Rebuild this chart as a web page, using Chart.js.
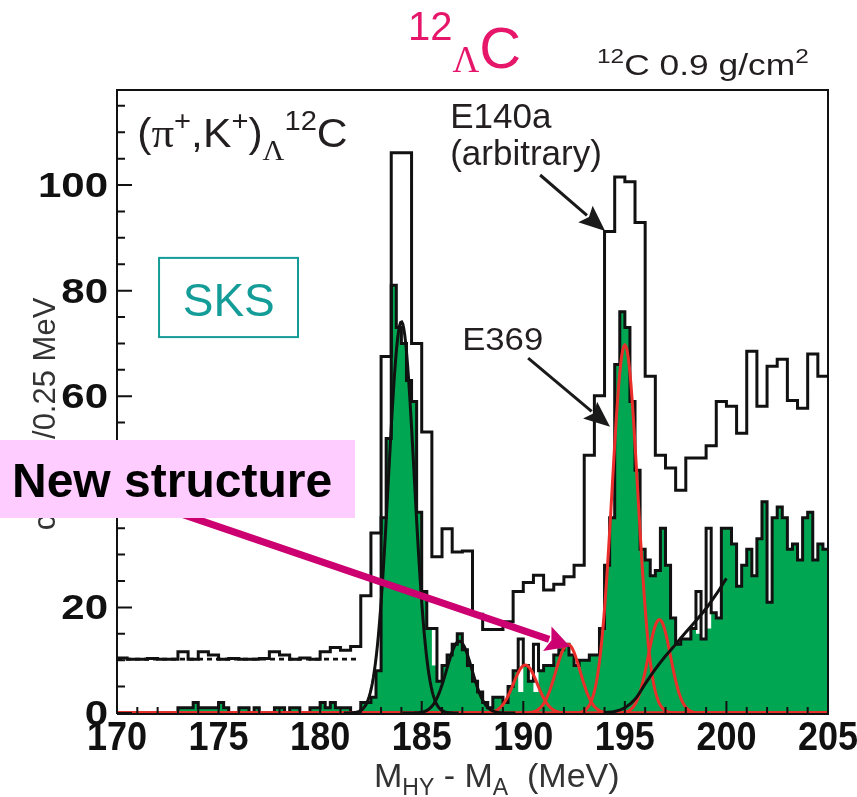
<!DOCTYPE html>
<html>
<head>
<meta charset="utf-8">
<script src="https://cdn.jsdelivr.net/npm/chart.js@4.4.1/dist/chart.umd.min.js"></script>
<style>
  html, body { margin: 0; padding: 0; background: #fff; }
</style>
</head>
<body>
<canvas id="myChart" width="857" height="797"></canvas>
<script>
// E369 spectrum: counts per 0.25 MeV, first bin starts at 170.00 MeV
const e369Start = 170
const e369Width = 0.25
const e369Counts = [
    0, 0, 0, 0, 0, 0, 0, 0, 0, 0, 0, 0,
    1, 1, 1, 2,   1, 1, 1, 1,   2, 1, 0, 0,   1, 1, 0, 1,
    0, 0, 0, 1,   1, 0, 1, 1,   0, 0, 1, 1,   2, 1, 2, 1,
    1, 1, 0, 0,   2, 2, 3, 8,   37, 52, 81, 73,   70, 63, 59, 38,
    23, 16, 16, 6,   9, 11, 13, 15,   12, 9, 6, 4,   2, 1, 3, 3,
    2, 5, 8, 14,   9, 6, 13, 8,   9, 9, 11, 12,   13, 11, 9, 10,
    10, 11, 11, 16,   28, 37, 66, 76,   73, 59, 46, 31,   29, 26, 27, 35,
    28, 18, 13, 14,   14, 16, 23, 14,   35, 19, 18, 35,   35, 32, 24, 28,
    31, 26, 33, 40,   21, 37, 39, 37,   31, 32, 29, 37,   38, 29, 32, 31
]
// single-bin spikes where the green fill stops below the outline: [bin start, fill level]
const e369FillGaps = [[185.5, 9], [189.75, 4], [190.5, 4], [198.5, 15], [199.0, 16]]

// E140a spectrum (arbitrary units), 0.5 MeV bins from 170.0 MeV
const e140Start = 170
const e140Width = 0.5
const e140Counts = [
    10.4, 10.2, 10.2, 10.3, 10.2, 10.2, 11.6, 10.2, 11.6, 11.0,
    10.2, 10.3, 10.2, 10.2, 10.3, 11.6, 11.0, 10.2, 10.4, 10.2,
    11.6, 12.4, 11.9, 12.6, 22.2, 34.1, 67.5, 106.1, 106.1, 70.0,
    53.2, 29.6, 34.9, 30.5, 30.7, 18.7, 15.8, 15.8, 17.3, 23.0,
    24.7, 26.1, 23.3, 24.4, 25.8, 28.0, 48.8, 60.1, 91.2, 101.5,
    100.6, 92.9, 63.8, 48.8, 46.4, 42.2, 48.3, 48.3, 50.6, 59.0,
    58.1, 53.0, 68.5, 58.1, 65.7, 67.0, 59.2, 57.7, 68.0, 63.8
]

// flat E140a level below threshold (dashed)
const e140FlatLevel = 10.2
const e140FlatRange = [170, 181.9]

// fitted peaks: centre (MeV), height (counts), sigma (MeV)
const blackPeakCentres = [184.0, 186.85]
const blackPeakHeights = [74.1, 13.6]
const blackPeakSigmas = [0.63, 0.62]
const redPeakCentres = [190.1, 192.2, 195.0, 196.7]
const redPeakHeights = [9.1, 13.0, 69.7, 17.7]
const redPeakSigmas = [0.59, 0.6, 0.63, 0.55]

// quasi-free continuum line
const qfMass = [194.0, 194.5, 195.0, 195.5, 196.0, 196.5, 197.0, 197.5, 198.0, 198.5, 199.0, 199.5, 200.0]
const qfCounts = [0.1, 0.3, 1.0, 2.6, 5.5, 8.3, 10.8, 13.0, 15.3, 17.5, 19.8, 22.5, 25.5]

const xTickLabels = [170, 175, 180, 185, 190, 195, 200, 205]
const yTickLabels = [0, 20, 40, 60, 80, 100]

const GREEN = '#00a651'
const RED = '#ea2f2b'
const INK = '#111111'
const TEXT = '#231f20'
const MAGENTA = '#cc0070'
const TEAL = '#149c98'
const SANS = '"Liberation Sans", Arial, sans-serif'
const SERIF = '"Liberation Serif", "Times New Roman", serif'

function histPoints(start, width, counts) {
    let pts = counts.map((c, i) => ({ x: start + i * width, y: c }))
    pts.push({ x: start + counts.length * width, y: counts[counts.length - 1] })
    return pts
}

function fillCounts() {
    let out = e369Counts.slice()
    e369FillGaps.forEach(([m, v]) => {
        out[Math.round((m - e369Start) / e369Width)] = v
    })
    return out
}

function peakCurve(c, h, s, lo, hi) {
    let pts = []
    for (let i = 0; ; i++) {
        let m = lo + i * 0.05
        if (m > hi + 1e-9) break
        pts.push({ x: m, y: h * Math.exp(-0.5 * ((m - c) / s) ** 2) })
    }
    return pts
}

let datasets = []
redPeakCentres.forEach((c, i) => {
    datasets.push({
        data: peakCurve(c, redPeakHeights[i], redPeakSigmas[i], 170, 205),
        borderColor: RED, borderWidth: 3, fill: false, order: 2
    })
})
blackPeakCentres.forEach((c, i) => {
    let s = blackPeakSigmas[i]
    datasets.push({
        data: peakCurve(c, blackPeakHeights[i], s, c - 4.5 * s, c + 4.5 * s),
        borderColor: INK, borderWidth: 3, fill: false, order: 1
    })
})
datasets.push({
    data: qfMass.map((m, i) => ({ x: m, y: qfCounts[i] })),
    borderColor: INK, borderWidth: 3, fill: false, cubicInterpolationMode: 'monotone', order: 1
})
datasets.push({
    data: [{ x: e140FlatRange[0], y: e140FlatLevel }, { x: e140FlatRange[1], y: e140FlatLevel }],
    borderColor: INK, borderWidth: 2.6, borderDash: [5, 4], fill: false, order: 3
})
datasets.push({
    data: histPoints(e140Start, e140Width, e140Counts),
    borderColor: INK, borderWidth: 3, stepped: true, fill: false, order: 4
})
datasets.push({
    data: histPoints(e369Start, e369Width, e369Counts),
    borderColor: INK, borderWidth: 3, stepped: true, fill: false, order: 5
})
datasets.push({
    data: histPoints(e369Start, e369Width, fillCounts()),
    borderWidth: 0, borderColor: 'rgba(0,0,0,0)', backgroundColor: GREEN,
    stepped: true, fill: 'origin', order: 6
})

// text made of runs: [text, font, baseline shift]; sx stretches it horizontally
function drawRuns(ctx, x, y, runs, color, sx) {
    let cx = 0
    ctx.save()
    ctx.translate(x, y)
    ctx.scale(sx || 1, 1)
    ctx.fillStyle = color
    ctx.textAlign = 'left'
    ctx.textBaseline = 'alphabetic'
    runs.forEach(([t, f, dy]) => {
        ctx.font = f
        ctx.fillText(t, cx, dy || 0)
        cx += ctx.measureText(t).width
    })
    ctx.restore()
}

function drawLabel(ctx, text, x, y, font, align, sx) {
    ctx.save()
    ctx.translate(x, y)
    ctx.scale(sx, 1)
    ctx.font = font
    ctx.textAlign = align
    ctx.textBaseline = 'alphabetic'
    ctx.fillText(text, 0, 0)
    ctx.restore()
}

function drawArrow(ctx, x0, y0, x1, y1, lw, headLen, headW, color) {
    let ang = Math.atan2(y1 - y0, x1 - x0)
    let bx = x1 - Math.cos(ang) * headLen, by = y1 - Math.sin(ang) * headLen
    ctx.strokeStyle = color
    ctx.fillStyle = color
    ctx.lineWidth = lw
    ctx.lineCap = 'butt'
    ctx.beginPath()
    ctx.moveTo(x0, y0)
    ctx.lineTo(bx + Math.cos(ang) * 2, by + Math.sin(ang) * 2)
    ctx.stroke()
    let nx = -Math.sin(ang), ny = Math.cos(ang)
    ctx.beginPath()
    ctx.moveTo(x1, y1)
    ctx.lineTo(bx + nx * headW / 2, by + ny * headW / 2)
    ctx.lineTo(bx + Math.cos(ang) * headLen * 0.18, by + Math.sin(ang) * headLen * 0.18)
    ctx.lineTo(bx - nx * headW / 2, by - ny * headW / 2)
    ctx.closePath()
    ctx.fill()
}

const decor = {
    id: 'decor',
    afterDraw(chart) {
        const ctx = chart.ctx
        const xs = chart.scales.x, ys = chart.scales.y
        const a = chart.chartArea
        const X = v => xs.getPixelForValue(v)
        const Y = v => ys.getPixelForValue(v)
        ctx.save()

        // frame
        ctx.strokeStyle = INK
        ctx.lineWidth = 2
        ctx.beginPath()
        ctx.moveTo(a.left, a.bottom + 1)
        ctx.lineTo(a.right, a.bottom + 1)
        ctx.lineTo(a.right, a.top)
        ctx.lineTo(a.left, a.top)
        ctx.lineTo(a.left, a.bottom + 1)
        ctx.stroke()

        // inward ticks
        ctx.lineWidth = 2
        ctx.beginPath()
        for (let m = xs.min; m <= xs.max; m += 1) {
            let len = m % 5 === 0 ? 12 : 6
            ctx.moveTo(X(m), a.bottom)
            ctx.lineTo(X(m), a.bottom - len)
        }
        for (let v = 0; v <= ys.max; v += 5) {
            let len = v % 20 === 0 ? 15 : 8
            ctx.moveTo(a.left, Y(v))
            ctx.lineTo(a.left + len, Y(v))
        }
        ctx.stroke()

        // tick labels
        ctx.fillStyle = INK
        xTickLabels.forEach(v => drawLabel(ctx, String(v), X(v), a.bottom + 37, 'bold 40px ' + SANS, 'center', 0.9))
        yTickLabels.forEach(v => drawLabel(ctx, String(v), a.left - 9, Y(v) + 12, 'bold 35px ' + SANS, 'right', 1.2))

        // axis titles
        ctx.fillStyle = '#333'
        ctx.save()
        ctx.translate(55, 414)
        ctx.rotate(-Math.PI / 2)
        ctx.font = '31px ' + SANS
        ctx.textAlign = 'center'
        ctx.fillText('counts/0.25 MeV', 0, 0)
        ctx.restore()
        drawRuns(ctx, 374, 787, [
            ['M', '34px ' + SANS], ['HY', '23px ' + SANS, 8], [' - M', '34px ' + SANS],
            ['A', '23px ' + SANS, 8], ['  (MeV)', '34px ' + SANS]
        ], '#333')

        // title and target note
        drawRuns(ctx, 408, 68, [
            ['12', '40px ' + SANS, -28], ['\u039B', '37px ' + SERIF, 4], ['C', '58px ' + SANS]
        ], '#e6166a')
        drawRuns(ctx, 597, 75, [
            ['12', '20px ' + SANS, -12], ['C 0.9 g/cm', '29px ' + SANS], ['2', '20px ' + SANS, -12]
        ], TEXT, 1.22)

        // reaction label
        drawRuns(ctx, X(171.0), Y(107.2), [
            ['(', '41px ' + SANS], ['\u03C0', '43px ' + SERIF], ['+', '28px ' + SANS, -17],
            [',K', '41px ' + SANS], ['+', '28px ' + SANS, -17], [')', '41px ' + SANS],
            ['\u039B', '29px ' + SERIF, 13], ['12', '28px ' + SANS, -17], ['C', '41px ' + SANS]
        ], TEXT, 1.04)

        // SKS box
        ctx.strokeStyle = TEAL
        ctx.lineWidth = 2
        ctx.strokeRect(X(172.07), Y(86.2), X(178.91) - X(172.07), Y(71.2) - Y(86.2))
        ctx.fillStyle = TEAL
        ctx.font = '46px ' + SANS
        ctx.textAlign = 'center'
        ctx.fillText('SKS', X(175.5), Y(75.2))

        // data set labels with arrows
        ctx.fillStyle = TEXT
        ctx.textAlign = 'left'
        ctx.font = '35px ' + SANS
        ctx.fillText('E140a', X(186.4), Y(110.8))
        ctx.fillText('(arbitrary)', X(186.4), Y(103.8))
        drawLabel(ctx, 'E369', X(186.99), Y(68.75), '31px ' + SANS, 'left', 1.12)
        drawArrow(ctx, X(190.83), Y(101.9), X(194.03), Y(91.3), 3, 26, 22, '#1a1a1a')
        drawArrow(ctx, X(190.24), Y(67.2), X(194.27), Y(54.2), 3, 26, 22, '#1a1a1a')

        // new structure call-out
        drawArrow(ctx, X(172.86), Y(38.1), X(192.3), Y(12.6), 7, 24, 26, MAGENTA)
        ctx.fillStyle = '#ffccff'
        ctx.fillRect(0, 440, 355, 78)
        ctx.fillStyle = '#000'
        ctx.font = 'bold 48px ' + SANS
        ctx.textAlign = 'left'
        ctx.fillText('New structure', 12, 497)

        ctx.restore()
    }
}

new Chart(document.getElementById('myChart'), {
    type: 'line',
    data: { datasets: datasets },
    options: {
        responsive: false,
        animation: false,
        layout: { padding: { top: 90, right: 29, left: 0, bottom: 0 } },
        plugins: { legend: { display: false }, tooltip: { enabled: false } },
        elements: { point: { radius: 0 }, line: { tension: 0 } },
        scales: {
            x: {
                type: 'linear', min: 170, max: 205,
                grid: { display: false }, border: { display: false }, ticks: { display: false },
                afterFit(s) { s.height = 84 }
            },
            y: {
                type: 'linear', min: 0, max: 118,
                grid: { display: false }, border: { display: false }, ticks: { display: false },
                afterFit(s) { s.width = 117 }
            }
        }
    },
    plugins: [decor]
})
</script>
</body>
</html>
